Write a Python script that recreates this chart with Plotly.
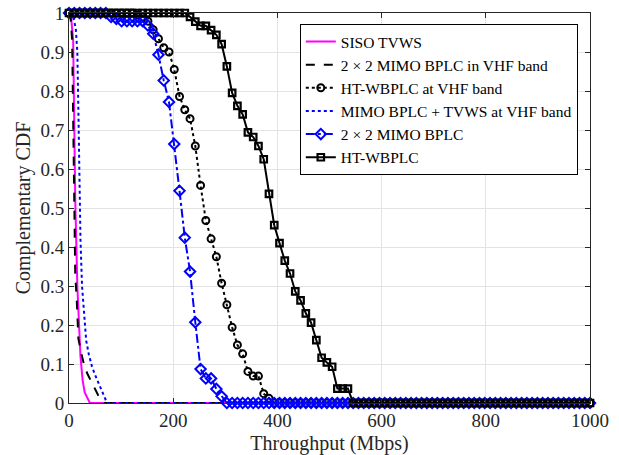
import numpy as np
import plotly.graph_objects as go

# Shared sample grid for the marker series (Mbps)
x_grid = np.linspace(0, 1000, 100)

# HT-WBPLC (black squares, solid)
y_ht_wbplc = [1.0] * 23 + [0.99, 0.978, 0.967, 0.967, 0.956, 0.944, 0.92, 0.863, 0.795, 0.762,
                           0.74, 0.694, 0.682, 0.659, 0.625, 0.536, 0.456, 0.41, 0.365, 0.332,
                           0.286, 0.263, 0.23, 0.206, 0.161, 0.116, 0.104, 0.093, 0.037, 0.037,
                           0.037] + [0.0] * 46

# HT-WBPLC at VHF band (black circles, dotted)
y_ht_vhf = [1.0] * 13 + [0.995, 0.99, 0.979, 0.957, 0.934, 0.911, 0.900, 0.855, 0.786, 0.752,
                         0.729, 0.659, 0.558, 0.468, 0.421, 0.375, 0.307, 0.252, 0.194, 0.149,
                         0.126, 0.081, 0.069, 0.069, 0.024, 0.012] + [0.0] * 61

# 2 x 2 MIMO BPLC (blue diamonds, dash-dot)
y_mimo_bplc = [1.0] * 8 + [0.99, 0.985, 0.979, 0.979, 0.979, 0.979, 0.979, 0.968, 0.947, 0.893,
                           0.827, 0.772, 0.664, 0.544, 0.424, 0.337, 0.207, 0.087, 0.063, 0.063,
                           0.036, 0.017] + [0.0] * 70

# Steep low-throughput curves (no markers)
x_siso = [0, 4, 8, 10, 12, 16, 22, 26, 30, 40, 1000]
y_siso = [1.0, 0.99, 0.93, 0.75, 0.52, 0.30, 0.12, 0.06, 0.028, 0.0, 0.0]

x_vhf = [0, 3, 6, 8, 10, 12, 15, 18, 24, 30, 36, 47, 56, 63, 68, 1000]
y_vhf = [1.0, 0.99, 0.93, 0.70, 0.45, 0.33, 0.26, 0.165, 0.125, 0.092, 0.073, 0.042, 0.02, 0.005, 0.0, 0.0]

x_tvws = [0, 8, 13, 16, 18, 20, 22, 25, 29, 33, 38, 44, 50, 61, 67, 73, 1000]
y_tvws = [1.0, 0.99, 0.96, 0.90, 0.75, 0.55, 0.42, 0.30, 0.22, 0.16, 0.125, 0.094, 0.072, 0.038, 0.018, 0.0, 0.0]

x_ticks = [0, 200, 400, 600, 800, 1000]
y_ticks = [0, 0.1, 0.2, 0.3, 0.4, 0.5, 0.6, 0.7, 0.8, 0.9, 1]
y_tick_text = ["0", "0.1", "0.2", "0.3", "0.4", "0.5", "0.6", "0.7", "0.8", "0.9", "1"]

FONT = "Liberation Serif"
AX = "#262626"

fig = go.Figure()
fig.add_trace(go.Scatter(x=x_siso, y=y_siso, mode="lines", name="SISO TVWS",
                         line=dict(color="#ff00ff", width=2), cliponaxis=False))
fig.add_trace(go.Scatter(x=x_vhf, y=y_vhf, mode="lines", name="2 × 2 MIMO BPLC in VHF band",
                         line=dict(color="black", width=2, dash="dash"), cliponaxis=False))
fig.add_trace(go.Scatter(x=x_grid, y=y_ht_vhf, mode="lines+markers", name="HT-WBPLC at VHF band",
                         line=dict(color="black", width=2, dash="dot"),
                         marker=dict(symbol="circle-open", size=7, color="black", line=dict(width=2)),
                         cliponaxis=False))
fig.add_trace(go.Scatter(x=x_tvws, y=y_tvws, mode="lines", name="MIMO BPLC + TVWS at VHF band",
                         line=dict(color="#0000ff", width=2, dash="dot"), cliponaxis=False))
fig.add_trace(go.Scatter(x=x_grid, y=y_mimo_bplc, mode="lines+markers", name="2 × 2 MIMO BPLC",
                         line=dict(color="#0000ff", width=2, dash="dashdot"),
                         marker=dict(symbol="diamond-open", size=8, color="#0000ff", line=dict(width=2)),
                         cliponaxis=False))
fig.add_trace(go.Scatter(x=x_grid, y=y_ht_wbplc, mode="lines+markers", name="HT-WBPLC",
                         line=dict(color="black", width=2),
                         marker=dict(symbol="square-open", size=6.5, color="black", line=dict(width=2.2)),
                         cliponaxis=False))

fig.update_layout(
    width=619, height=455,
    margin=dict(l=69, r=28.5, t=12.5, b=51.5, autoexpand=False),
    paper_bgcolor="white", plot_bgcolor="white",
    font=dict(family=FONT, size=19, color=AX),
    showlegend=True,
    legend=dict(x=0.9766, y=0.972, xanchor="right", yanchor="top",
                bgcolor="white", bordercolor="black", borderwidth=1,
                font=dict(family=FONT, size=15.5, color="black"),
                tracegroupgap=0, itemwidth=30),
)
fig.update_xaxes(range=[0, 1000], tickvals=x_ticks, showgrid=True, gridcolor="#e3e3e3",
                 showline=True, linecolor=AX, linewidth=1, mirror="ticks", automargin=False,
                 ticks="inside", ticklen=5, tickcolor=AX, zeroline=False,
                 tickfont=dict(family=FONT, size=19, color=AX),
                 title=dict(text="Throughput (Mbps)", font=dict(family=FONT, size=20, color=AX), standoff=6))
fig.update_yaxes(range=[0, 1], tickvals=y_ticks, ticktext=y_tick_text, showgrid=True, gridcolor="#e3e3e3",
                 showline=True, linecolor=AX, linewidth=1, mirror="ticks", automargin=False,
                 ticks="inside", ticklen=5, tickcolor=AX, zeroline=False,
                 tickfont=dict(family=FONT, size=19, color=AX),
                 title=dict(text="Complementary CDF", font=dict(family=FONT, size=20, color=AX), standoff=4))

fig.write_html("out.html", config={"displayModeBar": False},
               post_script="document.body.style.margin='0';")
